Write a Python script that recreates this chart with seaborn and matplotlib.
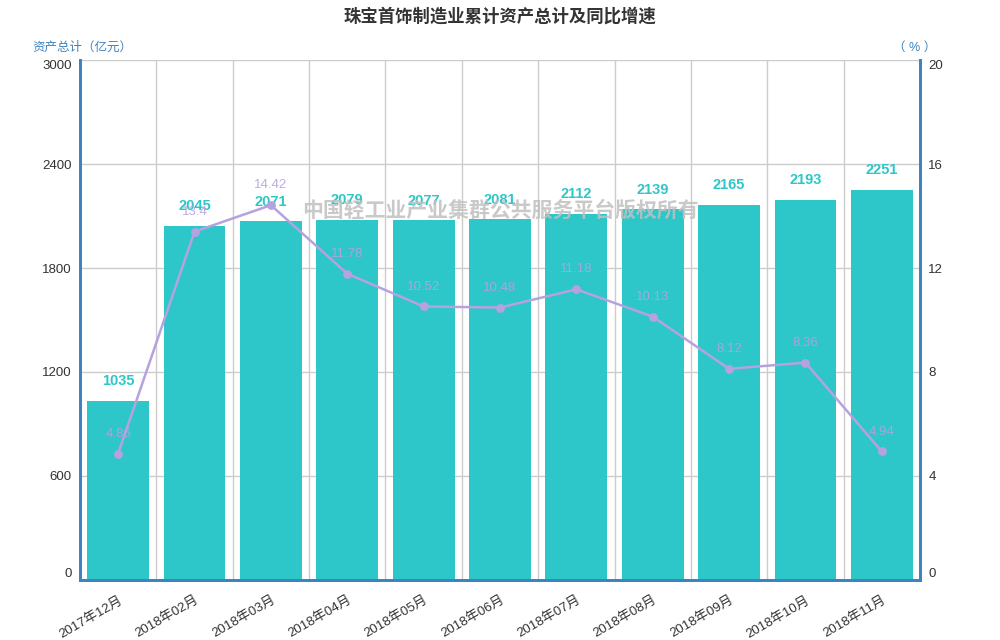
import matplotlib
matplotlib.use('Agg')
import numpy as np
import pandas as pd
import seaborn as sns
import matplotlib.pyplot as plt

months = ['2017年12月', '2018年02月', '2018年03月', '2018年04月', '2018年05月',
          '2018年06月', '2018年07月', '2018年08月', '2018年09月', '2018年10月',
          '2018年11月']
assets = [1035, 2045, 2071, 2079, 2077, 2081, 2112, 2139, 2165, 2193, 2251]
growth = [4.86, 13.4, 14.42, 11.78, 10.52, 10.48, 11.18, 10.13, 8.12, 8.36, 4.94]

bar_clr = '#2ec7c9'
line_clr = '#b6a2de'
axis_clr = '#3c84c0'
grid_clr = '#cccccc'

sns.set_style('white')
plt.rcParams['font.family'] = ['Liberation Sans', 'Noto Sans CJK SC', 'DejaVu Sans']

df = pd.DataFrame({'month': months, 'assets': assets, 'growth': growth})

fig = plt.figure(figsize=(10, 6.4), dpi=100)
ax = fig.add_axes([0.08, 0.094, 0.84, 0.812])
sns.barplot(data=df, x='month', y='assets', color=bar_clr, width=0.81,
            saturation=1, linewidth=0, ax=ax, zorder=2)
ax.set_ylim(0, 3000)
ax.set_xlim(-0.5, len(months) - 0.5)
ax.set_yticks(np.arange(0, 3001, 600))
ax.set_xlabel('')
ax.set_ylabel('')

# grid lines at category boundaries
bounds = np.arange(len(months) + 1) - 0.5
ax.set_xticks(bounds)
ax.set_xticklabels([])
ax.set_xticks(np.arange(len(months)), minor=True)
ax.set_xticklabels(months, minor=True, rotation=30, ha='right',
                   rotation_mode='anchor', fontsize=9.5, color='#333333')
ax.tick_params(axis='x', which='minor', length=0, pad=10)
ax.tick_params(axis='x', which='major', length=5, color='#333333', width=1)
ax.tick_params(axis='y', length=0, labelsize=9.5, labelcolor='#333333', pad=6)
for b in bounds:
    ax.axvline(b, color=grid_clr, lw=1, zorder=0)
for t in np.arange(600, 3001, 600):
    ax.axhline(t, color=grid_clr, lw=1, zorder=0)

for i, v in enumerate(assets):
    ax.annotate(str(v), (i, v), xytext=(0, 9), textcoords='offset points',
                ha='center', va='bottom', fontsize=10.5, fontweight='bold',
                color=bar_clr, zorder=5)

ax2 = ax.twinx()
sns.pointplot(data=df, x='month', y='growth', color=line_clr, ax=ax2,
              markers='o', linewidth=1.8, markersize=5)
ax2.set_ylim(0, 20)
ax2.set_xlim(-0.5, len(months) - 0.5)
ax2.set_yticks(np.arange(0, 21, 4))
ax2.set_xlabel('')
ax2.set_ylabel('')
ax2.tick_params(axis='y', length=0, labelsize=9.5, labelcolor='#333333', pad=6)
for i, v in enumerate(growth):
    ax2.annotate(f'{v:g}', (i, v), xytext=(0, 10), textcoords='offset points',
                 ha='center', va='bottom', fontsize=9.5, color=line_clr,
                 alpha=0.9)

# edge tick labels sit inside the plot range, like the original
for a in (ax, ax2):
    labels = a.get_yticklabels()
    labels[0].set_verticalalignment('bottom')
    labels[-1].set_verticalalignment('top')
    a.spines['top'].set_visible(False)
    for side in ('left', 'right', 'bottom'):
        a.spines[side].set_color(axis_clr)
        a.spines[side].set_linewidth(2)

ax.text(0.5, 0.71, '中国轻工业产业集群公共服务平台版权所有', transform=ax.transAxes,
        ha='center', va='center', fontsize=15, fontweight='bold',
        color='#c0c0c0', alpha=0.85, zorder=10)

fig.text(0.5, 0.975, '珠宝首饰制造业累计资产总计及同比增速', ha='center', va='center',
         fontsize=12.5, fontweight='bold', color='#333333')
fig.text(0.032, 0.925, '资产总计（亿元）', ha='left', va='center', fontsize=9,
         color=axis_clr)
fig.text(0.936, 0.925, '（ % ）', ha='right', va='center', fontsize=9,
         color=axis_clr)

fig.savefig('out.png', dpi=100)
